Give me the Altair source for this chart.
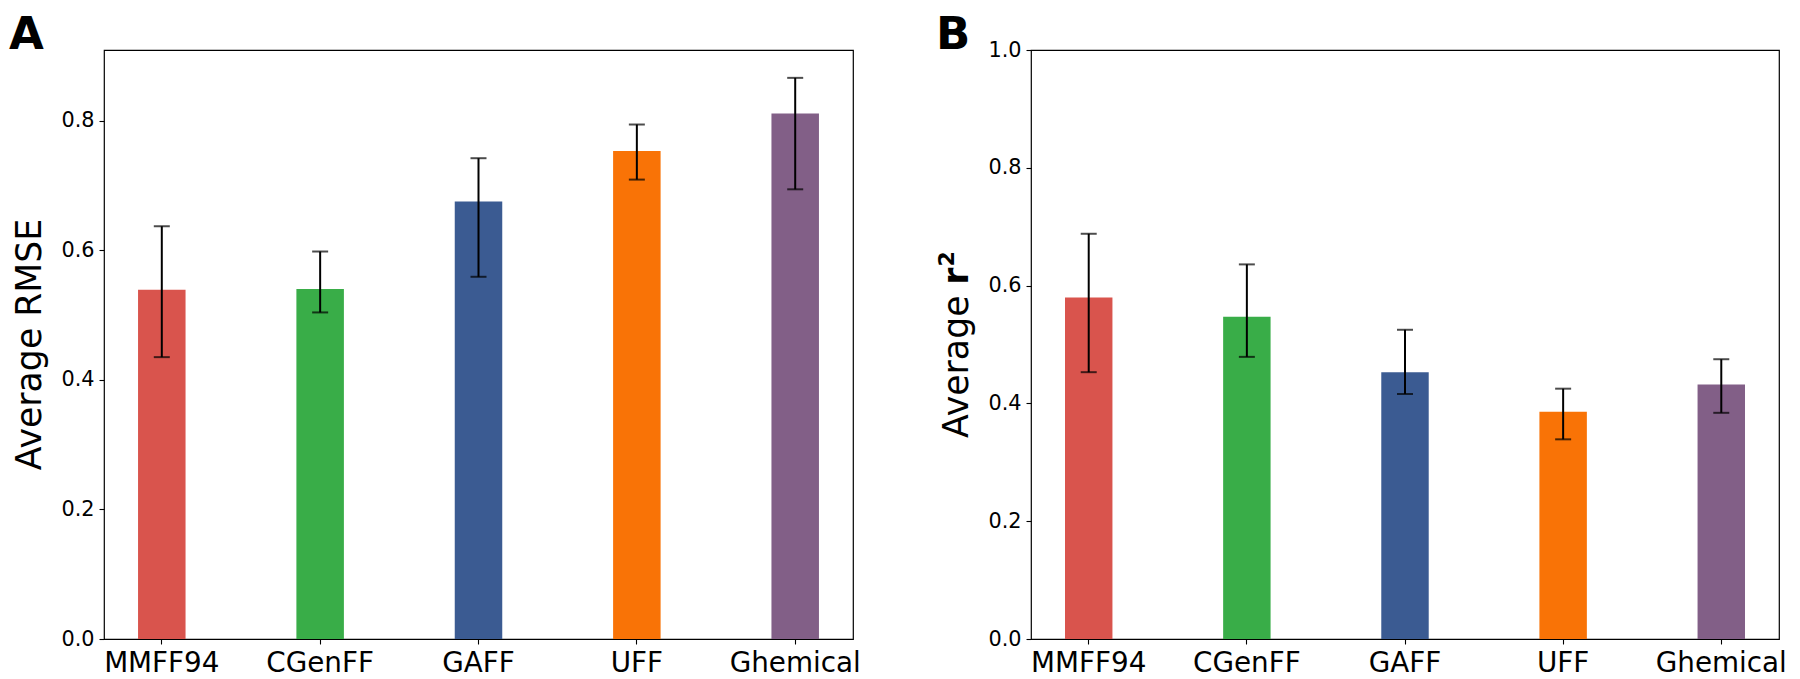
import altair as alt
import pandas as pd

categories = ["MMFF94", "CGenFF", "GAFF", "UFF", "Ghemical"]
colors = ["#d9544d", "#39ad48", "#3b5b92", "#f97306", "#825f87"]

rmse_mean = [0.539, 0.540, 0.675, 0.753, 0.811]
rmse_low = [0.435, 0.504, 0.559, 0.709, 0.694]
rmse_high = [0.637, 0.598, 0.742, 0.794, 0.866]
rmse_ticks = [0.0, 0.2, 0.4, 0.6, 0.8]

r2_mean = [0.580, 0.547, 0.453, 0.386, 0.432]
r2_low = [0.453, 0.479, 0.416, 0.339, 0.384]
r2_high = [0.688, 0.636, 0.525, 0.425, 0.475]
r2_ticks = [0.0, 0.2, 0.4, 0.6, 0.8, 1.0]

FONT = "DejaVu Sans"
PH = 589


def panel(values, lows, highs, ymax, ticks, letter, width, title_marks):
    df = pd.DataFrame({"cat": categories, "val": values, "lo": lows, "hi": highs})
    xs = alt.Scale(paddingInner=0.7, paddingOuter=0.215)
    x = alt.X(
        "cat:N", sort=categories, scale=xs, title=None,
        axis=alt.Axis(labelAngle=0, labelFontSize=27.8, labelPadding=5, tickSize=5,
                      tickWidth=1.1, tickColor="black", domain=False, labelColor="black",
                      labelFont=FONT),
    )
    ys = alt.Scale(domain=[0, ymax], nice=False, zero=True)
    y = alt.Y(
        "val:Q", scale=ys, title=None,
        axis=alt.Axis(values=ticks, format=".1f", grid=False, labelFontSize=20.8,
                      labelPadding=5, tickSize=5, tickWidth=1.1, tickColor="black",
                      domain=False, labelColor="black", labelFont=FONT),
    )
    base = alt.Chart(df)
    bars = base.mark_bar().encode(
        x=x, y=y,
        color=alt.Color("cat:N", scale=alt.Scale(domain=categories, range=colors), legend=None),
    )
    xe = alt.X("cat:N", sort=categories, scale=xs, title=None)
    rules = base.mark_rule(color="black", strokeWidth=2).encode(
        x=xe, y=alt.Y("lo:Q", scale=ys, title=None), y2="hi:Q"
    )
    cap_lo = base.mark_tick(color="black", thickness=2, size=16, orient="horizontal").encode(
        x=xe, y=alt.Y("lo:Q", scale=ys, title=None)
    )
    cap_hi = base.mark_tick(color="black", thickness=2, size=16, orient="horizontal").encode(
        x=xe, y=alt.Y("hi:Q", scale=ys, title=None)
    )
    lab = alt.Chart(pd.DataFrame({"t": [letter]})).mark_text(
        font=FONT, fontSize=45, fontWeight="bold", align="left", baseline="alphabetic", color="black"
    ).encode(x=alt.value(-95), y=alt.value(-1), text="t:N")
    layers = [bars, rules, cap_lo, cap_hi, lab] + title_marks
    return alt.layer(*layers).properties(width=width, height=PH)


title_a = alt.Chart(pd.DataFrame({"t": ["Average RMSE"]})).mark_text(
    font=FONT, fontSize=34.7, angle=270, align="center", baseline="alphabetic", color="black"
).encode(x=alt.value(-63), y=alt.value(PH / 2), text="t:N")

title_b1 = alt.Chart(pd.DataFrame({"t": ["Average"]})).mark_text(
    font=FONT, fontSize=34.7, angle=270, align="right", baseline="alphabetic", color="black"
).encode(x=alt.value(-63), y=alt.value(245.5), text="t:N")

title_b2 = alt.Chart(pd.DataFrame({"t": ["r"]})).mark_text(
    font=FONT, fontSize=34.7, fontWeight="bold", angle=270, align="left", baseline="alphabetic",
    color="black"
).encode(x=alt.value(-63), y=alt.value(234.7), text="t:N")

title_b3 = alt.Chart(pd.DataFrame({"t": ["2"]})).mark_text(
    font=FONT, fontSize=22, fontWeight="bold", angle=270, align="left", baseline="alphabetic",
    color="black"
).encode(x=alt.value(-77), y=alt.value(216.5), text="t:N")

pa = panel(rmse_mean, rmse_low, rmse_high, 0.909, rmse_ticks, "A", 749, [title_a])
pb = panel(r2_mean, r2_low, r2_high, 1.0, r2_ticks, "B", 748, [title_b1, title_b2, title_b3])

chart = (
    alt.hconcat(pa, pb, spacing=74)
    .resolve_scale(color="independent")
    .properties(padding={"left": 0, "top": 4, "right": 0, "bottom": 0})
    .configure(font=FONT)
    .configure_view(stroke="black", strokeWidth=1.2)
)

chart.save("out.html", embed_options={"renderer": "svg", "actions": False})
